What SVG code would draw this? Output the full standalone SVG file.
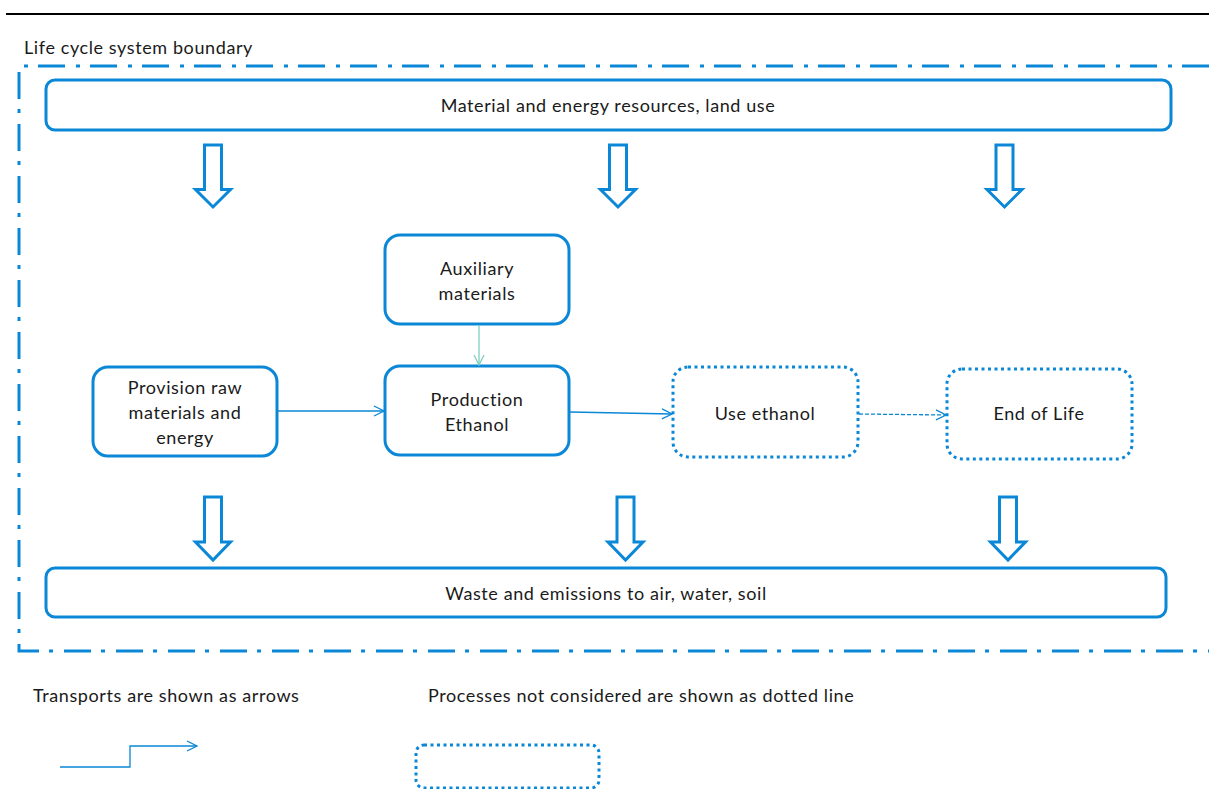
<svg xmlns="http://www.w3.org/2000/svg" width="1209" height="789" viewBox="0 0 1209 789">
<style>
  text { font-family: Lato, "Liberation Sans", sans-serif; font-size: 18px; letter-spacing: 0.6px; fill: #1a1a1a; }
  .c { text-anchor: middle; }
  .box { fill: #fff; stroke: #0A87D6; stroke-width: 3; }
  .dot { fill: #fff; stroke: #0A87D6; stroke-width: 3; stroke-dasharray: 3 3.5; }
  .blk { fill: #fff; stroke: #0A87D6; stroke-width: 3; stroke-linejoin: miter; }
  .conn { fill: none; stroke: #0A87D6; stroke-width: 1.3; }
</style>
<defs>
  <marker id="ah" viewBox="0 0 12 12" refX="11" refY="6" markerWidth="12" markerHeight="12" markerUnits="userSpaceOnUse" orient="auto">
    <path d="M1,1 L11,6 L1,11" fill="none" stroke="#0A87D6" stroke-width="1.3"/>
  </marker>
  <marker id="aht" viewBox="0 0 12 12" refX="11" refY="6" markerWidth="12" markerHeight="12" markerUnits="userSpaceOnUse" orient="auto">
    <path d="M1,1 L11,6 L1,11" fill="none" stroke="#7CCFBF" stroke-width="1.3"/>
  </marker>
</defs>
<rect width="1209" height="789" fill="#fff"/>
<line x1="6" y1="14" x2="1209" y2="14" stroke="#000" stroke-width="2"/>
<text x="24" y="54">Life cycle system boundary</text>
<g id="boundary" fill="none" stroke="#0A87D6" stroke-width="3" stroke-dasharray="27 10 4 11">
  <path d="M1209,66 L19,66 L19,651 L1209,651"/>
</g>
<g id="resources">
  <rect class="box" x="46" y="80" width="1125" height="50" rx="9"/>
  <text class="c" x="608" y="112">Material and energy resources, land use</text>
</g>
<g id="waste">
  <rect class="box" x="46" y="568" width="1120" height="49" rx="9"/>
  <text class="c" x="606" y="600">Waste and emissions to air, water, soil</text>
</g>
<g id="block-arrows">
  <path class="blk" d="M204.5,145 h17 v44.5 h9 L213,207 L195.5,189.5 h9 Z"/>
  <path class="blk" d="M609.5,145 h17 v44.5 h9 L618,207 L600.5,189.5 h9 Z"/>
  <path class="blk" d="M996,145 h17 v44.5 h9 L1004.5,207 L987,189.5 h9 Z"/>
  <path class="blk" d="M204.5,497 h17 v45 h9 L213,560 L195.5,542 h9 Z"/>
  <path class="blk" d="M617,497 h17 v45 h9 L625.5,560 L608,542 h9 Z"/>
  <path class="blk" d="M999.5,497 h17 v45 h9 L1008,560 L990.5,542 h9 Z"/>
</g>
<g id="aux">
  <rect class="box" x="385" y="235" width="184" height="89" rx="15"/>
  <text class="c" x="477" y="275">Auxiliary</text>
  <text class="c" x="477" y="300">materials</text>
</g>
<g id="provision">
  <rect class="box" x="93" y="367" width="184" height="89" rx="15"/>
  <text class="c" x="185" y="394">Provision raw</text>
  <text class="c" x="185" y="419">materials and</text>
  <text class="c" x="185" y="444">energy</text>
</g>
<g id="production">
  <rect class="box" x="385" y="366" width="184" height="89" rx="15"/>
  <text class="c" x="477" y="406">Production</text>
  <text class="c" x="477" y="431">Ethanol</text>
</g>
<g id="use">
  <rect class="dot" x="673" y="367" width="185" height="90" rx="15"/>
  <text class="c" x="765" y="420">Use ethanol</text>
</g>
<g id="eol">
  <rect class="dot" x="947" y="369" width="185" height="90" rx="15"/>
  <text class="c" x="1039" y="420">End of Life</text>
</g>
<g id="connectors">
  <line x1="479" y1="325" x2="479" y2="365" fill="none" stroke="#7CCFBF" stroke-width="1.3" marker-end="url(#aht)"/>
  <line class="conn" x1="278" y1="411" x2="384" y2="411" marker-end="url(#ah)"/>
  <line class="conn" x1="570" y1="412" x2="672" y2="414" marker-end="url(#ah)"/>
  <line class="conn" x1="859" y1="414" x2="946" y2="415" stroke-dasharray="4 2" marker-end="url(#ah)"/>
</g>
<g id="legend">
  <text x="33" y="702">Transports are shown as arrows</text>
  <text x="428" y="702">Processes not considered are shown as dotted line</text>
  <path class="conn" d="M60,767 H130 V746 H197" marker-end="url(#ah)"/>
  <rect class="dot" x="416" y="745" width="183" height="43" rx="8"/>
</g>
</svg>
